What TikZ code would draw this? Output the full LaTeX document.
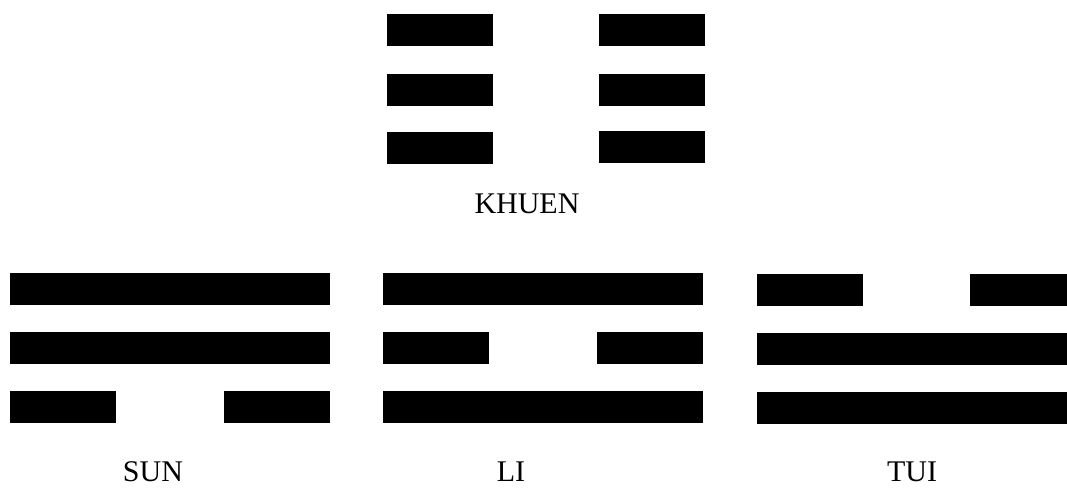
\documentclass[tikz,border=0pt]{standalone}
\usepackage{fontspec}
\setmainfont{Liberation Serif}
\usepackage{tikz}
\usetikzlibrary{positioning}

\begin{document}
\begin{tikzpicture}[
  x=1pt, y=-1pt,
  yang/.style={fill=black, inner sep=0pt, minimum height=32pt, minimum width=320pt, anchor=north west},
  yin/.style={fill=black, inner sep=0pt, minimum height=32pt, minimum width=106pt, anchor=north west},
  trilabel/.style={anchor=base, inner sep=0pt, text=black, font=\fontsize{30}{30}\selectfont},
]
\useasboundingbox (0,0) rectangle (1067,487);

% Khuen (top)
\node[yin] (khuenAl) at (387, 14)  {};
\node[yin] (khuenAr) at (599, 14)  {};
\node[yin] (khuenBl) at (387, 74)  {};
\node[yin] (khuenBr) at (599, 74)  {};
\node[yin] (khuenCl) at (387, 132) {};
\node[yin] (khuenCr) at (599, 131) {};

% Sun
\node[yang] (sunA)  at (10, 273) {};
\node[yang] (sunB)  at (10, 332) {};
\node[yin]  (sunCl) at (10, 391) {};
\node[yin]  (sunCr) at (224, 391) {};

% Li
\node[yang] (liA)  at (383, 273) {};
\node[yin]  (liBl) at (383, 332) {};
\node[yin]  (liBr) at (597, 332) {};
\node[yang] (liC)  at (383, 391) {};

% Tui
\node[yin]  (tuiAl) at (757, 274) {};
\node[yin]  (tuiAr) at (970, 274) {};
\node[yang] (tuiB)  at (757, 333) {};
\node[yang] (tuiC)  at (757, 392) {};

% Names
\node[trilabel] (khuen) at (527, 213) {KHUEN};
\node[trilabel] (sun)   at (153, 481) {SUN};
\node[trilabel] (li)    at (511, 481) {LI};
\node[trilabel] (tui)   at (912, 481) {TUI};

\end{tikzpicture}
\end{document}
